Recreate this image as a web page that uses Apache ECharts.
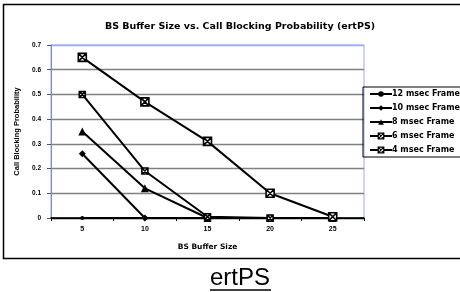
<!DOCTYPE html>
<html>
<head>
<meta charset="utf-8">
<script src="https://cdn.jsdelivr.net/npm/echarts@6/dist/echarts.min.js"></script>
<style>
  html, body { margin: 0; padding: 0; background: #fff; }
  #chart { width: 460px; height: 292px; }
</style>
</head>
<body>
<div id="chart"></div>
<script>
// buffer sizes on the x axis
const bufferSizes = ['5', '10', '15', '20', '25'];

// call blocking probability per frame length
const frame12 = [0, 0, 0, 0, 0];
const frame10 = [0.26, 0, 0, 0, 0];
const frame8 = [0.35, 0.12, 0, 0, 0];
const frame6 = [0.5, 0.19, 0.005, 0, 0];
const frame4 = [0.65, 0.47, 0.31, 0.1, 0.005];

const seriesNames = ['12 msec Frame', '10 msec Frame', '8 msec Frame', '6 msec Frame', '4 msec Frame'];

const boxX = 'path://M0,0 L10,0 L10,10 L0,10 Z M0,0 L10,10 M10,0 L0,10';
const font = "'Liberation Sans', Arial, sans-serif";
const wideFont = "'DejaVu Sans', 'Liberation Sans', sans-serif";

const chart = echarts.init(document.getElementById('chart'));

const hollowStyle = { color: '#fff', borderColor: '#000', borderWidth: 1.6 };
const solidStyle = { color: '#000', borderColor: '#000', borderWidth: 0 };

function mkSeries(name, data, symbol, size, hollow) {
    return {
        name: name,
        type: 'line',
        data: data,
        symbol: symbol,
        symbolSize: size,
        showSymbol: true,
        lineStyle: { color: '#000', width: 2 },
        itemStyle: hollow ? hollowStyle : solidStyle,
        emphasis: { disabled: true },
        animation: false
    };
}

chart.setOption({
    animation: false,
    title: {
        text: 'BS Buffer Size vs. Call Blocking Probability (ertPS)',
        left: 235,
        textAlign: 'center',
        top: 17,
        textStyle: { fontFamily: wideFont, fontSize: 9.5, fontWeight: 'bold', color: '#000' }
    },
    grid: {
        left: 51,
        top: 45,
        width: 313,
        height: 173,
        show: true,
        borderColor: '#9aabf2',
        borderWidth: 1
    },
    legend: {
        orient: 'vertical',
        left: 363,
        top: 87,
        itemWidth: 22,
        itemHeight: 7,
        itemGap: 6,
        padding: [3, 40, 3, 6],
        borderColor: '#000',
        borderWidth: 1,
        data: [
            { name: seriesNames[0], itemStyle: solidStyle },
            { name: seriesNames[1], itemStyle: solidStyle },
            { name: seriesNames[2], itemStyle: solidStyle },
            { name: seriesNames[3], itemStyle: { color: '#fff', borderColor: '#000', borderWidth: 1.2 } },
            { name: seriesNames[4], itemStyle: { color: '#fff', borderColor: '#000', borderWidth: 1.2 } }
        ],
        textStyle: { fontFamily: wideFont, fontSize: 8, fontWeight: 'bold', color: '#000', padding: [0, 0, 0, -5] }
    },
    xAxis: {
        type: 'category',
        data: bufferSizes,
        boundaryGap: true,
        name: 'BS Buffer Size',
        nameLocation: 'middle',
        nameGap: 25,
        nameTextStyle: { fontFamily: wideFont, fontSize: 7.5, fontWeight: 'bold', color: '#000' },
        axisLine: { lineStyle: { color: '#000', width: 1.5 } },
        axisTick: { show: true, inside: false, length: 3, lineStyle: { color: '#000' } },
        axisLabel: { fontFamily: font, fontSize: 7, fontWeight: 'bold', color: '#000', margin: 8 },
        splitLine: { show: false }
    },
    yAxis: {
        type: 'value',
        min: 0,
        max: 0.7,
        interval: 0.1,
        name: 'Call Blocking Probability',
        nameLocation: 'middle',
        nameGap: 27,
        nameRotate: 90,
        nameTextStyle: { fontFamily: font, fontSize: 7.5, fontWeight: 'bold', color: '#000' },
        axisLine: { show: true, lineStyle: { color: '#7f8cb0', width: 1 } },
        axisTick: { show: true, length: 4, lineStyle: { color: '#555' } },
        axisLabel: {
            fontFamily: font, fontSize: 6.5, fontWeight: 'bold', color: '#000', margin: 10,
            formatter: v => (v === 0 ? '0' : v.toFixed(1))
        },
        splitLine: {
            show: true,
            lineStyle: {
                color: ['#000', '#808080', '#808080', '#808080', '#808080', '#808080', '#808080', '#9aabf2'],
                width: 1.3
            }
        }
    },
    series: [
        mkSeries(seriesNames[0], frame12, 'circle', 4, false),
        mkSeries(seriesNames[1], frame10, 'diamond', 7, false),
        mkSeries(seriesNames[2], frame8, 'triangle', 8, false),
        mkSeries(seriesNames[3], frame6, boxX, 6, true),
        mkSeries(seriesNames[4], frame4, boxX, 8, true)
    ],
    graphic: [
        {
            type: 'rect',
            shape: { x: 3.5, y: 4.5, width: 470, height: 254 },
            style: { fill: null, stroke: '#000', lineWidth: 1.5 },
            silent: true
        },
        {
            type: 'text',
            left: 210,
            top: 266,
            style: { text: 'ertPS', font: "24px 'Liberation Sans', Arial, sans-serif", fill: '#000' },
            silent: true
        },
        {
            type: 'line',
            shape: { x1: 210, y1: 290, x2: 271, y2: 290 },
            style: { stroke: '#000', lineWidth: 1.5 },
            silent: true
        }
    ]
});
</script>
</body>
</html>
